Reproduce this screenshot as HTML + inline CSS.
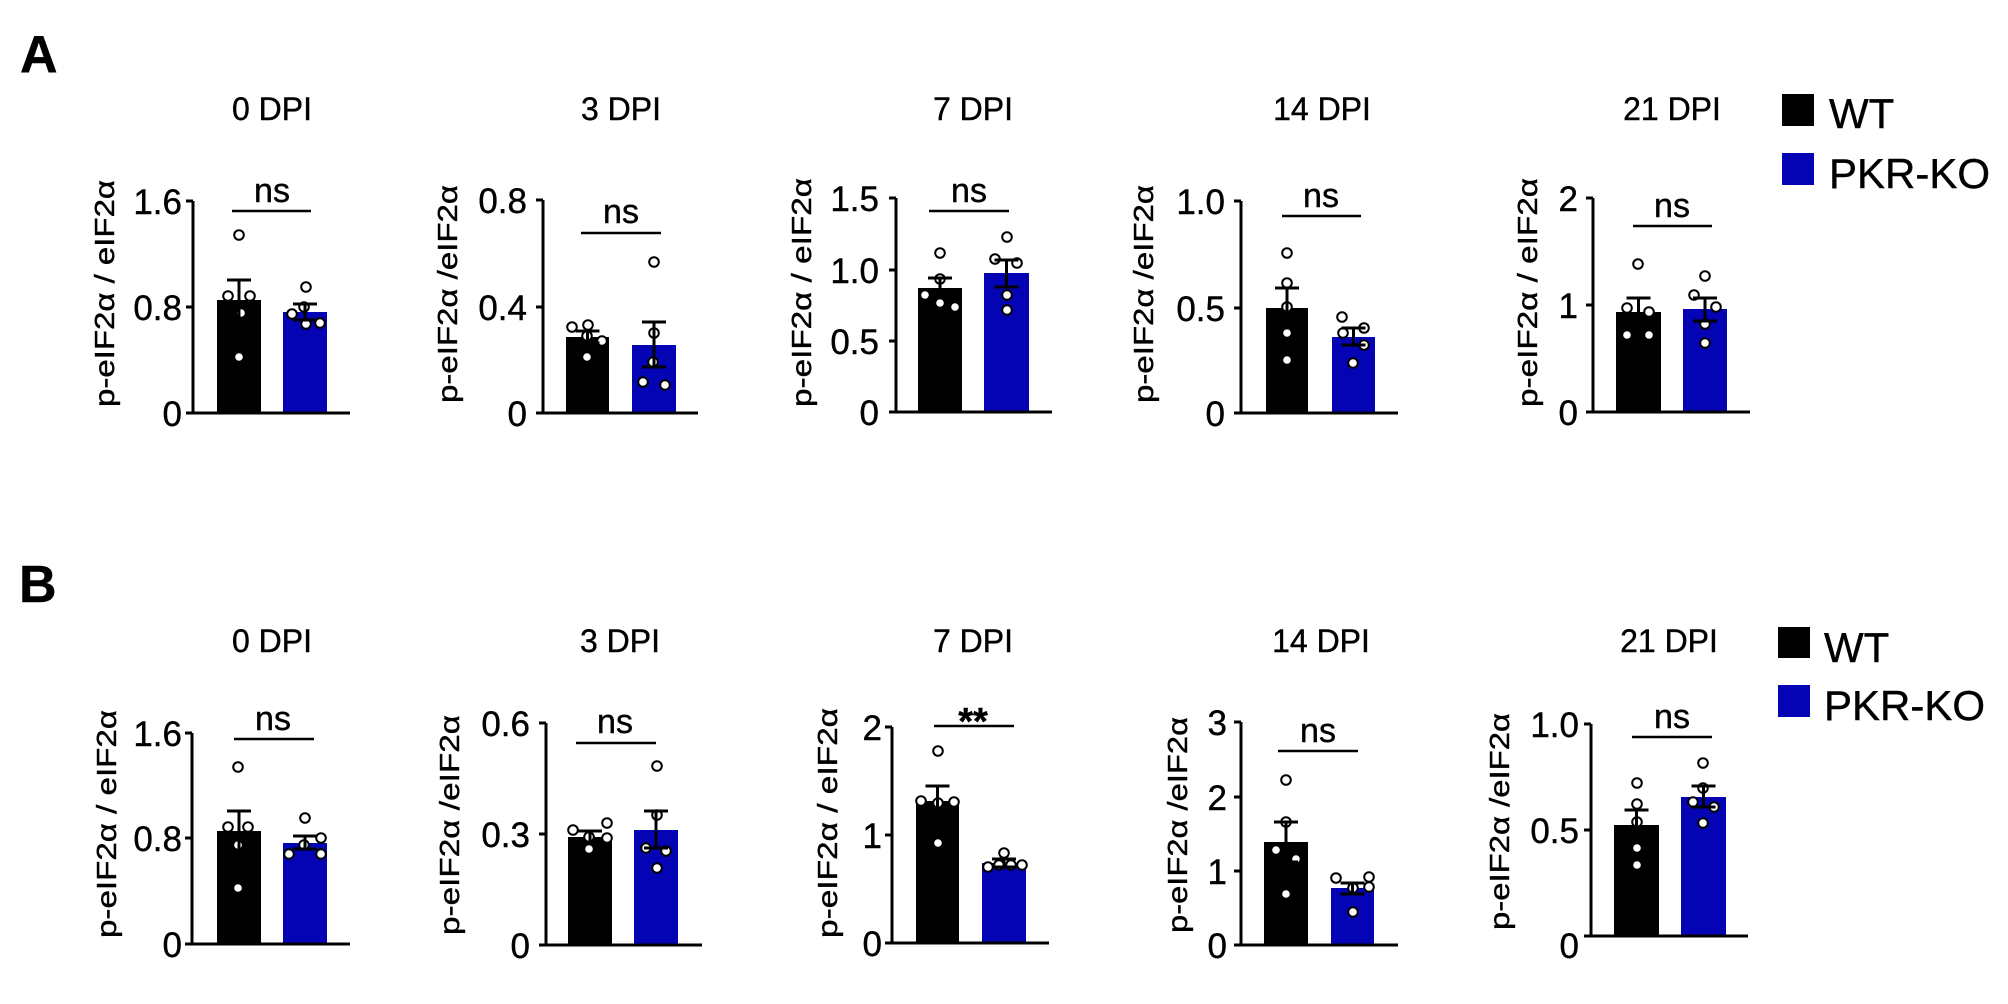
<!DOCTYPE html>
<html><head><meta charset="utf-8">
<style>
html,body{margin:0;padding:0;background:#fff;}
svg{display:block;}
text{font-family:"Liberation Sans",Arial,sans-serif;fill:#000;stroke:#000;stroke-width:0.4px;}
.ax{stroke:#000;stroke-width:3;fill:none;}
.eb{stroke:#000;stroke-width:3;fill:none;}
.sg{stroke:#000;stroke-width:2.5;fill:none;}
.pt{fill:#fff;stroke:#000;stroke-width:2;}
.tk{font-size:35px;text-anchor:end;}
.tt{font-size:32px;text-anchor:middle;}
.ns{font-size:34px;text-anchor:middle;}
.yl{font-size:28px;}
.lg{font-size:42px;}
.bl{fill:#0404b4;}
</style></head>
<body>
<svg width="2008" height="1004" viewBox="0 0 2008 1004" xmlns="http://www.w3.org/2000/svg">
<rect width="2008" height="1004" fill="#fff" stroke="none"/>

<text x="20" y="72" style="font-size:52px;font-weight:bold">A</text>
<text x="19" y="602" style="font-size:52px;font-weight:bold">B</text>

<!-- ================= A1 ================= -->
<rect x="217" y="300" width="44" height="113" fill="#000"/>
<rect x="283" y="312" width="44" height="101" class="bl"/>
<path class="ax" d="M193,201 V413 M186,413 H350 M186,201 H193 M186,307 H193"/>
<text class="tk" x="182" y="214">1.6</text>
<text class="tk" x="182" y="320">0.8</text>
<text class="tk" x="182" y="426">0</text>
<circle class="pt" cx="239" cy="235" r="4.8"/><circle class="pt" cx="228" cy="296" r="4.8"/><circle class="pt" cx="250" cy="296" r="4.8"/><circle class="pt" cx="241" cy="313" r="4.8"/><circle class="pt" cx="239" cy="357" r="4.8"/>
<circle class="pt" cx="306" cy="287" r="4.8"/><circle class="pt" cx="292" cy="314" r="4.8"/><circle class="pt" cx="304" cy="307" r="4.8"/><circle class="pt" cx="306" cy="324" r="4.8"/><circle class="pt" cx="320" cy="323" r="4.8"/>
<path class="eb" d="M239,280 V320 M227,280 H251 M227,320 H251"/>
<path class="eb" d="M305,304 V320 M293,304 H317 M293,320 H317"/>
<text class="tt" x="272" y="120">0 DPI</text>
<text class="ns" x="272" y="202">ns</text>
<path class="sg" d="M232,211 H311"/>
<text class="yl" transform="translate(114,407) rotate(-90)" textLength="227" lengthAdjust="spacingAndGlyphs">p-eIF2α / eIF2α</text>

<!-- ================= A2 ================= -->
<rect x="566" y="337" width="43" height="76" fill="#000"/>
<rect x="632" y="345" width="44" height="68" class="bl"/>
<path class="ax" d="M543,200 V413 M536,413 H698 M536,200 H543 M536,307 H543"/>
<text class="tk" x="527" y="213">0.8</text>
<text class="tk" x="527" y="320">0.4</text>
<text class="tk" x="527" y="426">0</text>
<circle class="pt" cx="572" cy="327" r="4.8"/><circle class="pt" cx="588" cy="325" r="4.8"/><circle class="pt" cx="587" cy="336" r="4.8"/><circle class="pt" cx="602" cy="341" r="4.8"/><circle class="pt" cx="587" cy="357" r="4.8"/>
<circle class="pt" cx="654" cy="262" r="4.8"/><circle class="pt" cx="654" cy="333" r="4.8"/><circle class="pt" cx="653" cy="362" r="4.8"/><circle class="pt" cx="643" cy="382" r="4.8"/><circle class="pt" cx="665" cy="385" r="4.8"/>
<path class="eb" d="M587.5,331 V343 M575.5,331 H599.5 M575.5,343 H599.5"/>
<path class="eb" d="M654,322 V367 M642,322 H666 M642,367 H666"/>
<text class="tt" x="621" y="120">3 DPI</text>
<text class="ns" x="621" y="223">ns</text>
<path class="sg" d="M581,233 H661"/>
<text class="yl" transform="translate(457,403) rotate(-90)" textLength="218" lengthAdjust="spacingAndGlyphs">p-eIF2α /eIF2α</text>

<!-- ================= A3 ================= -->
<rect x="918" y="288" width="44" height="124" fill="#000"/>
<rect x="984" y="273" width="45" height="139" class="bl"/>
<path class="ax" d="M896,198 V412 M889,412 H1052 M889,198 H896 M889,270 H896 M889,341 H896"/>
<text class="tk" x="879" y="211">1.5</text>
<text class="tk" x="879" y="283">1.0</text>
<text class="tk" x="879" y="354">0.5</text>
<text class="tk" x="879" y="425">0</text>
<circle class="pt" cx="940" cy="253" r="4.8"/><circle class="pt" cx="940" cy="279" r="4.8"/><circle class="pt" cx="925" cy="295" r="4.8"/><circle class="pt" cx="940" cy="303" r="4.8"/><circle class="pt" cx="955" cy="307" r="4.8"/>
<circle class="pt" cx="1007" cy="237" r="4.8"/><circle class="pt" cx="995" cy="259" r="4.8"/><circle class="pt" cx="1017" cy="263" r="4.8"/><circle class="pt" cx="1007" cy="295" r="4.8"/><circle class="pt" cx="1007" cy="310" r="4.8"/>
<path class="eb" d="M940,278 V298 M928,278 H952 M928,298 H952"/>
<path class="eb" d="M1006.5,260 V287 M994.5,260 H1018.5 M994.5,287 H1018.5"/>
<text class="tt" x="973" y="120">7 DPI</text>
<text class="ns" x="969" y="202">ns</text>
<path class="sg" d="M929,211 H1009"/>
<text class="yl" transform="translate(811,407) rotate(-90)" textLength="229" lengthAdjust="spacingAndGlyphs">p-eIF2α / eIF2α</text>

<!-- ================= A4 ================= -->
<rect x="1266" y="308" width="42" height="105" fill="#000"/>
<rect x="1332" y="337" width="43" height="76" class="bl"/>
<path class="ax" d="M1241,201 V413 M1234,413 H1398 M1234,201 H1241 M1234,308 H1241"/>
<text class="tk" x="1225" y="214">1.0</text>
<text class="tk" x="1225" y="321">0.5</text>
<text class="tk" x="1225" y="426">0</text>
<circle class="pt" cx="1287" cy="253" r="4.8"/><circle class="pt" cx="1287" cy="283" r="4.8"/><circle class="pt" cx="1287" cy="307" r="4.8"/><circle class="pt" cx="1287" cy="333" r="4.8"/><circle class="pt" cx="1287" cy="360" r="4.8"/>
<circle class="pt" cx="1342" cy="317" r="4.8"/><circle class="pt" cx="1343" cy="333" r="4.8"/><circle class="pt" cx="1364" cy="328" r="4.8"/><circle class="pt" cx="1364" cy="345" r="4.8"/><circle class="pt" cx="1353" cy="363" r="4.8"/>
<path class="eb" d="M1287,288 V328 M1275,288 H1299 M1275,328 H1299"/>
<path class="eb" d="M1353.5,328 V345 M1341.5,328 H1365.5 M1341.5,345 H1365.5"/>
<text class="tt" x="1322" y="120">14 DPI</text>
<text class="ns" x="1321" y="207">ns</text>
<path class="sg" d="M1282,216 H1361"/>
<text class="yl" transform="translate(1153,403) rotate(-90)" textLength="218" lengthAdjust="spacingAndGlyphs">p-eIF2α /eIF2α</text>

<!-- ================= A5 ================= -->
<rect x="1616" y="312" width="45" height="100" fill="#000"/>
<rect x="1683" y="309" width="44" height="103" class="bl"/>
<path class="ax" d="M1593,198 V412 M1586,412 H1750 M1586,198 H1593 M1586,305 H1593"/>
<text class="tk" x="1578" y="211">2</text>
<text class="tk" x="1578" y="318">1</text>
<text class="tk" x="1578" y="425">0</text>
<circle class="pt" cx="1638" cy="264" r="4.8"/><circle class="pt" cx="1627" cy="308" r="4.8"/><circle class="pt" cx="1649" cy="312" r="4.8"/><circle class="pt" cx="1627" cy="335" r="4.8"/><circle class="pt" cx="1649" cy="335" r="4.8"/>
<circle class="pt" cx="1705" cy="276" r="4.8"/><circle class="pt" cx="1694" cy="295" r="4.8"/><circle class="pt" cx="1716" cy="307" r="4.8"/><circle class="pt" cx="1705" cy="324" r="4.8"/><circle class="pt" cx="1705" cy="343" r="4.8"/>
<path class="eb" d="M1638.5,298 V326 M1626.5,298 H1650.5 M1626.5,326 H1650.5"/>
<path class="eb" d="M1705,298 V321 M1693,298 H1717 M1693,321 H1717"/>
<text class="tt" x="1672" y="120">21 DPI</text>
<text class="ns" x="1672" y="217">ns</text>
<path class="sg" d="M1633,226 H1712"/>
<text class="yl" transform="translate(1537,407) rotate(-90)" textLength="229" lengthAdjust="spacingAndGlyphs">p-eIF2α / eIF2α</text>

<!-- Legend A -->
<rect x="1782" y="94" width="32" height="32" fill="#000"/>
<text class="lg" x="1829" y="128">WT</text>
<rect x="1782" y="153" width="32" height="32" class="bl"/>
<text class="lg" x="1829" y="188">PKR-KO</text>

<!-- ================= B1 ================= -->
<rect x="217" y="831" width="44" height="113" fill="#000"/>
<rect x="283" y="843" width="44" height="101" class="bl"/>
<path class="ax" d="M192,733 V944 M185,944 H350 M185,733 H192 M185,838 H192"/>
<text class="tk" x="182" y="746">1.6</text>
<text class="tk" x="182" y="851">0.8</text>
<text class="tk" x="182" y="957">0</text>
<circle class="pt" cx="238" cy="767" r="4.8"/><circle class="pt" cx="228" cy="827" r="4.8"/><circle class="pt" cx="248" cy="827" r="4.8"/><circle class="pt" cx="238" cy="845" r="4.8"/><circle class="pt" cx="238" cy="888" r="4.8"/>
<circle class="pt" cx="305" cy="818" r="4.8"/><circle class="pt" cx="321" cy="838" r="4.8"/><circle class="pt" cx="304" cy="845" r="4.8"/><circle class="pt" cx="289" cy="854" r="4.8"/><circle class="pt" cx="321" cy="854" r="4.8"/>
<path class="eb" d="M239,811 V851 M227,811 H251 M227,851 H251"/>
<path class="eb" d="M305,836 V849 M293,836 H317 M293,849 H317"/>
<text class="tt" x="272" y="652">0 DPI</text>
<text class="ns" x="273" y="730">ns</text>
<path class="sg" d="M234,739 H314"/>
<text class="yl" transform="translate(116,938) rotate(-90)" textLength="228" lengthAdjust="spacingAndGlyphs">p-eIF2α / eIF2α</text>

<!-- ================= B2 ================= -->
<rect x="568" y="837" width="44" height="108" fill="#000"/>
<rect x="634" y="830" width="44" height="115" class="bl"/>
<path class="ax" d="M546,723 V945 M539,945 H702 M539,723 H546 M539,834 H546"/>
<text class="tk" x="530" y="736">0.6</text>
<text class="tk" x="530" y="847">0.3</text>
<text class="tk" x="530" y="958">0</text>
<circle class="pt" cx="573" cy="830" r="4.8"/><circle class="pt" cx="607" cy="823" r="4.8"/><circle class="pt" cx="589" cy="837" r="4.8"/><circle class="pt" cx="607" cy="838" r="4.8"/><circle class="pt" cx="589" cy="849" r="4.8"/>
<circle class="pt" cx="657" cy="766" r="4.8"/><circle class="pt" cx="657" cy="815" r="4.8"/><circle class="pt" cx="646" cy="848" r="4.8"/><circle class="pt" cx="666" cy="851" r="4.8"/><circle class="pt" cx="657" cy="868" r="4.8"/>
<path class="eb" d="M590,831 V843 M578,831 H602 M578,843 H602"/>
<path class="eb" d="M656,811 V848 M644,811 H668 M644,848 H668"/>
<text class="tt" x="620" y="652">3 DPI</text>
<text class="ns" x="615" y="733">ns</text>
<path class="sg" d="M576,743 H656"/>
<text class="yl" transform="translate(459,935) rotate(-90)" textLength="220" lengthAdjust="spacingAndGlyphs">p-eIF2α /eIF2α</text>

<!-- ================= B3 ================= -->
<rect x="916" y="801" width="43" height="142" fill="#000"/>
<rect x="982" y="863" width="44" height="80" class="bl"/>
<path class="ax" d="M892,727 V943 M885,943 H1049 M885,727 H892 M885,835 H892"/>
<text class="tk" x="882" y="740">2</text>
<text class="tk" x="882" y="848">1</text>
<text class="tk" x="882" y="956">0</text>
<circle class="pt" cx="938" cy="751" r="4.8"/><circle class="pt" cx="921" cy="801" r="4.8"/><circle class="pt" cx="938" cy="803" r="4.8"/><circle class="pt" cx="954" cy="802" r="4.8"/><circle class="pt" cx="938" cy="843" r="4.8"/>
<circle class="pt" cx="1004" cy="853" r="4.8"/><circle class="pt" cx="988" cy="867" r="4.8"/><circle class="pt" cx="999" cy="865" r="4.8"/><circle class="pt" cx="1011" cy="865" r="4.8"/><circle class="pt" cx="1022" cy="865" r="4.8"/>
<path class="eb" d="M937.5,786 V816 M925.5,786 H949.5 M925.5,816 H949.5"/>
<path class="eb" d="M1004,859 V867 M992,859 H1016 M992,867 H1016"/>
<text class="tt" x="973" y="652">7 DPI</text>
<text x="973" y="734" style="font-size:38px;font-weight:bold;text-anchor:middle">**</text>
<path class="sg" d="M934,726 H1014"/>
<text class="yl" transform="translate(837,938) rotate(-90)" textLength="230" lengthAdjust="spacingAndGlyphs">p-eIF2α / eIF2α</text>

<!-- ================= B4 ================= -->
<rect x="1264" y="842" width="44" height="103" fill="#000"/>
<rect x="1331" y="888" width="43" height="57" class="bl"/>
<path class="ax" d="M1241,722 V945 M1234,945 H1398 M1234,722 H1241 M1234,797 H1241 M1234,871 H1241"/>
<text class="tk" x="1227" y="735">3</text>
<text class="tk" x="1227" y="810">2</text>
<text class="tk" x="1227" y="884">1</text>
<text class="tk" x="1227" y="958">0</text>
<circle class="pt" cx="1286" cy="780" r="4.8"/><circle class="pt" cx="1286" cy="822" r="4.8"/><circle class="pt" cx="1276" cy="850" r="4.8"/><circle class="pt" cx="1296" cy="859" r="4.8"/><circle class="pt" cx="1286" cy="894" r="4.8"/>
<circle class="pt" cx="1336" cy="878" r="4.8"/><circle class="pt" cx="1369" cy="877" r="4.8"/><circle class="pt" cx="1353" cy="888" r="4.8"/><circle class="pt" cx="1369" cy="887" r="4.8"/><circle class="pt" cx="1353" cy="912" r="4.8"/>
<path class="eb" d="M1286,822 V862 M1274,822 H1298 M1274,862 H1298"/>
<path class="eb" d="M1352.5,883 V894 M1340.5,883 H1364.5 M1340.5,894 H1364.5"/>
<text class="tt" x="1321" y="652">14 DPI</text>
<text class="ns" x="1318" y="742">ns</text>
<path class="sg" d="M1278,751 H1358"/>
<text class="yl" transform="translate(1187,933) rotate(-90)" textLength="216" lengthAdjust="spacingAndGlyphs">p-eIF2α /eIF2α</text>

<!-- ================= B5 ================= -->
<rect x="1614" y="825" width="45" height="111" fill="#000"/>
<rect x="1681" y="797" width="45" height="139" class="bl"/>
<path class="ax" d="M1591,724 V936 M1584,936 H1748 M1584,724 H1591 M1584,830 H1591"/>
<text class="tk" x="1579" y="737">1.0</text>
<text class="tk" x="1579" y="843">0.5</text>
<text class="tk" x="1579" y="958">0</text>
<circle class="pt" cx="1637" cy="783" r="4.8"/><circle class="pt" cx="1637" cy="804" r="4.8"/><circle class="pt" cx="1637" cy="822" r="4.8"/><circle class="pt" cx="1637" cy="848" r="4.8"/><circle class="pt" cx="1637" cy="865" r="4.8"/>
<circle class="pt" cx="1703" cy="763" r="4.8"/><circle class="pt" cx="1703" cy="788" r="4.8"/><circle class="pt" cx="1693" cy="802" r="4.8"/><circle class="pt" cx="1714" cy="807" r="4.8"/><circle class="pt" cx="1703" cy="823" r="4.8"/>
<path class="eb" d="M1636.5,810 V840 M1624.5,810 H1648.5 M1624.5,840 H1648.5"/>
<path class="eb" d="M1703.5,786 V807 M1691.5,786 H1715.5 M1691.5,807 H1715.5"/>
<text class="tt" x="1669" y="652">21 DPI</text>
<text class="ns" x="1672" y="728">ns</text>
<path class="sg" d="M1632,737 H1712"/>
<text class="yl" transform="translate(1509,930) rotate(-90)" textLength="217" lengthAdjust="spacingAndGlyphs">p-eIF2α /eIF2α</text>

<!-- Legend B -->
<rect x="1778" y="627" width="32" height="31" fill="#000"/>
<text class="lg" x="1824" y="662">WT</text>
<rect x="1778" y="685" width="32" height="32" class="bl"/>
<text class="lg" x="1824" y="720">PKR-KO</text>
</svg>
</body></html>
